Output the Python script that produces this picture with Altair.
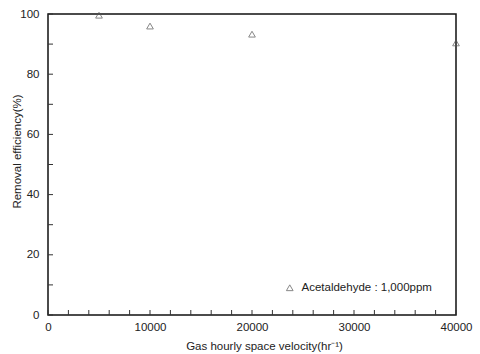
import altair as alt
import pandas as pd

velocity = [5000, 10000, 20000, 40000]
efficiency = [99.6, 96.0, 93.3, 90.4]
series = ["Acetaldehyde : 1,000ppm"] * 4

x_minor = list(range(0, 40001, 2000))
y_minor = list(range(0, 101, 10))

df = pd.DataFrame({"v": velocity, "e": efficiency, "s": series})
FONT = "Liberation Sans"

xs = alt.Scale(domain=[0, 40000], nice=False)
ys = alt.Scale(domain=[0, 100], nice=False)

points = alt.Chart(df).mark_point(shape="triangle-up", filled=False, size=45, strokeWidth=1, color="#555555").encode(
    x=alt.X("v:Q", scale=xs, axis=alt.Axis(title="Gas hourly space velocity(hr⁻¹)", values=[0, 10000, 20000, 30000, 40000], format="d",
                                            tickSize=0, labelPadding=6, titlePadding=8, grid=False, domain=False,
                                            labelFlush=False, titleX=216)),
    y=alt.Y("e:Q", scale=ys, axis=alt.Axis(title="Removal efficiency(%)", values=[0, 20, 40, 60, 80, 100], format="d",
                                           tickSize=0, labelPadding=9, titlePadding=-3, grid=False, domain=False,
                                           labelFlush=False, titleY=137)),
    shape=alt.Shape("s:N", scale=alt.Scale(range=["triangle-up"]),
                    legend=alt.Legend(title=None, orient="none", legendX=236, legendY=268, symbolFillColor="transparent",
                                      symbolStrokeColor="#555555", symbolSize=45, symbolStrokeWidth=1, labelFont=FONT,
                                      labelFontSize=11.5, labelColor="#222222", padding=0, labelOffset=6)),
)

xt = alt.Chart(pd.DataFrame({"t": x_minor})).mark_rule(color="#333333", strokeWidth=1).encode(
    x=alt.X("t:Q", scale=xs), y=alt.value(301), y2=alt.value(296))
yt = alt.Chart(pd.DataFrame({"t": y_minor})).mark_rule(color="#333333", strokeWidth=1).encode(
    y=alt.Y("t:Q", scale=ys), x=alt.value(0), x2=alt.value(5))

chart = alt.layer(xt, yt, points).properties(
    width=408, height=301,
    autosize=alt.AutoSizeParams(type="none"),
    padding={"left": 48, "top": 14, "right": 24, "bottom": 39},
).configure_view(stroke="#111111", strokeWidth=1.5).configure_axis(
    labelFont=FONT, titleFont=FONT, labelFontSize=11.5, titleFontSize=11.5, labelColor="#222222", titleColor="#222222",
    titleFontWeight="normal",
)

chart.save("out.html", embed_options={"renderer": "svg", "actions": False})
